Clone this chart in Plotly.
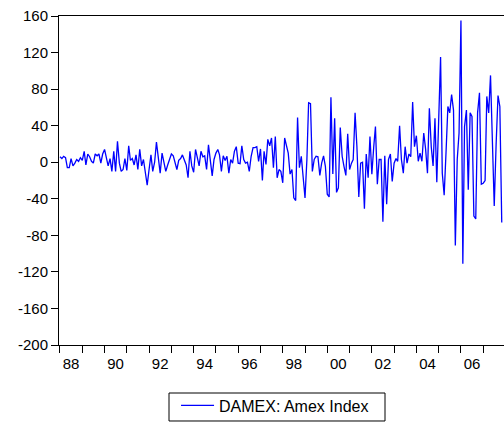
import plotly.graph_objects as go
import pandas as pd

# Monthly DAMEX values (1988M1 onwards)
damex_88_95 = [
    6, 4, 6.5, 5, -6, -6, 4, -4, -1, 3, 1, 5,
    2, 12, -3, 9, 6, 1, -1, 9, 7, 9, -1, 9,
    14, 3, -4, 4, -10, 12, -10, 23, -1, -10, -8, 4,
    -9, 18, 2, 4, -3, 8, -8, 14, -4, 3, -12, -25,
    -8, 8, -10, 0, 22, 3, -12, 10, -1, -10, -3, 4,
    9, 7, 1, -8, 2, 4, 8, 3, -3, -17, 12, -4,
    -11, 14, 5, -4, 12, 6, 7, -8, 19, -1, -15, 3,
    10, 14, 8, -10, 7, 2,
]
damex_95_02 = [
    6.5, -12, 3, -1, 12, 17, -1, -1.5, 18, 3,
    -1, 0, -10, 6.5, 16, 16, 17, 1, 14.5, -20,
    12, -2.5, 25, 18, 26.5, -6, 28, -17, -8, -10,
    -22.5, 26.5, 17, 10, -13, -8, -39, -42, 49, -6,
    6.5, -15, -39, 3, 65, 64, -10, 3, 6.5, 6,
    -14.5, -1, 7, -4.5, -35, -38, 71, -13, 48, -33,
    -28, 38, 6.5, -4.5, -14.5, 31, -8, -1, 3, 54,
    17, -38, -1, 0, -51, 9, -17, 28, -13, 17,
    39, -24, 3, 3, -65, 7, -46, 3, 9,
]
damex_02_07 = [
    -21, -1, 4, 1, 40, 3, -12, 17, -1, 9,
    6, 66, 17, 29, 1, 10, 1, 32, 14, -12,
    59, 17, -4, 48, -22, 40, 115, -12, -36, 10,
    61, 54, 74, 57, -91, 3, 32, 155, -111, 39,
    57, -30, 54, 50, -59, -62, 54, 76, -24, -23,
    -20, 72, 54, 95, 20, -48, 20, 73, 61, -66,
]
damex = damex_88_95 + damex_95_02 + damex_02_07
start_month = "1988-01-01"
dates = pd.date_range(start_month, periods=len(damex), freq="MS")

series_name = "DAMEX: Amex Index"

y_ticks = [-200, -160, -120, -80, -40, 0, 40, 80, 120, 160]
y_tick_text = ["-200", "-160", "-120", "-80", "-40", "0", "40", "80", "120", "160"]

year_ticks = [f"{y}-01-01" for y in range(1988, 2008)]
label_years = list(range(1988, 2007, 2))
label_pos = [f"{y}-07-01" for y in label_years]
label_text = [f"{y % 100:02d}" for y in label_years]

x_range = ["1987-12-16", "2007-12-08"]

fig = go.Figure()
fig.add_trace(go.Scatter(
    x=dates, y=damex, mode="lines", name=series_name,
    line=dict(color="#0000ff", width=1.3),
))
# helper trace so the yearly tick axis is drawn (invisible)
fig.add_trace(go.Scatter(
    x=[dates[0]], y=[0], xaxis="x2", mode="markers",
    marker=dict(opacity=0), showlegend=False, hoverinfo="skip",
))

fam = "Liberation Sans, Arial, sans-serif"
font = dict(family=fam, size=14, color="black")

# legend frame (drawn as a shape so its height matches the reference)
fig.add_shape(
    type="rect", xref="paper", yref="paper",
    x0=0.2472, x1=0.7326, y0=-0.231, y1=-0.1459,
    line=dict(color="black", width=1), fillcolor="rgba(0,0,0,0)", layer="above",
)

fig.update_layout(
    width=504, height=423,
    margin=dict(l=59, r=0, t=16, b=78, autoexpand=False),
    paper_bgcolor="white", plot_bgcolor="white",
    font=font,
    showlegend=True,
    legend=dict(
        orientation="h", x=0.263, xanchor="left", y=-0.132, yanchor="top",
        borderwidth=0, bgcolor="rgba(0,0,0,0)",
        itemwidth=33,
        font=dict(family=fam, size=16, color="black"),
    ),
    xaxis=dict(
        type="date", range=x_range,
        tickmode="array", tickvals=label_pos, ticktext=label_text,
        ticks="", ticklabelstandoff=5,
        showgrid=False, zeroline=False,
        showline=True, linecolor="black", linewidth=1, mirror=True,
        tickfont=dict(family=fam, size=15, color="black"),
    ),
    xaxis2=dict(
        type="date", range=x_range, overlaying="x", anchor="y", side="bottom",
        tickmode="array", tickvals=year_ticks,
        ticks="outside", ticklen=7, tickcolor="black", tickwidth=1,
        showticklabels=False, showgrid=False, zeroline=False, showline=False,
    ),
    yaxis=dict(
        range=[-200, 160],
        tickmode="array", tickvals=y_ticks, ticktext=y_tick_text,
        ticks="outside", ticklen=7, tickcolor="black",
        showgrid=False, zeroline=False,
        showline=True, linecolor="black", linewidth=1, mirror=False,
        tickfont=dict(family=fam, size=15, color="black"),
    ),
)

fig.write_html("out.html")
